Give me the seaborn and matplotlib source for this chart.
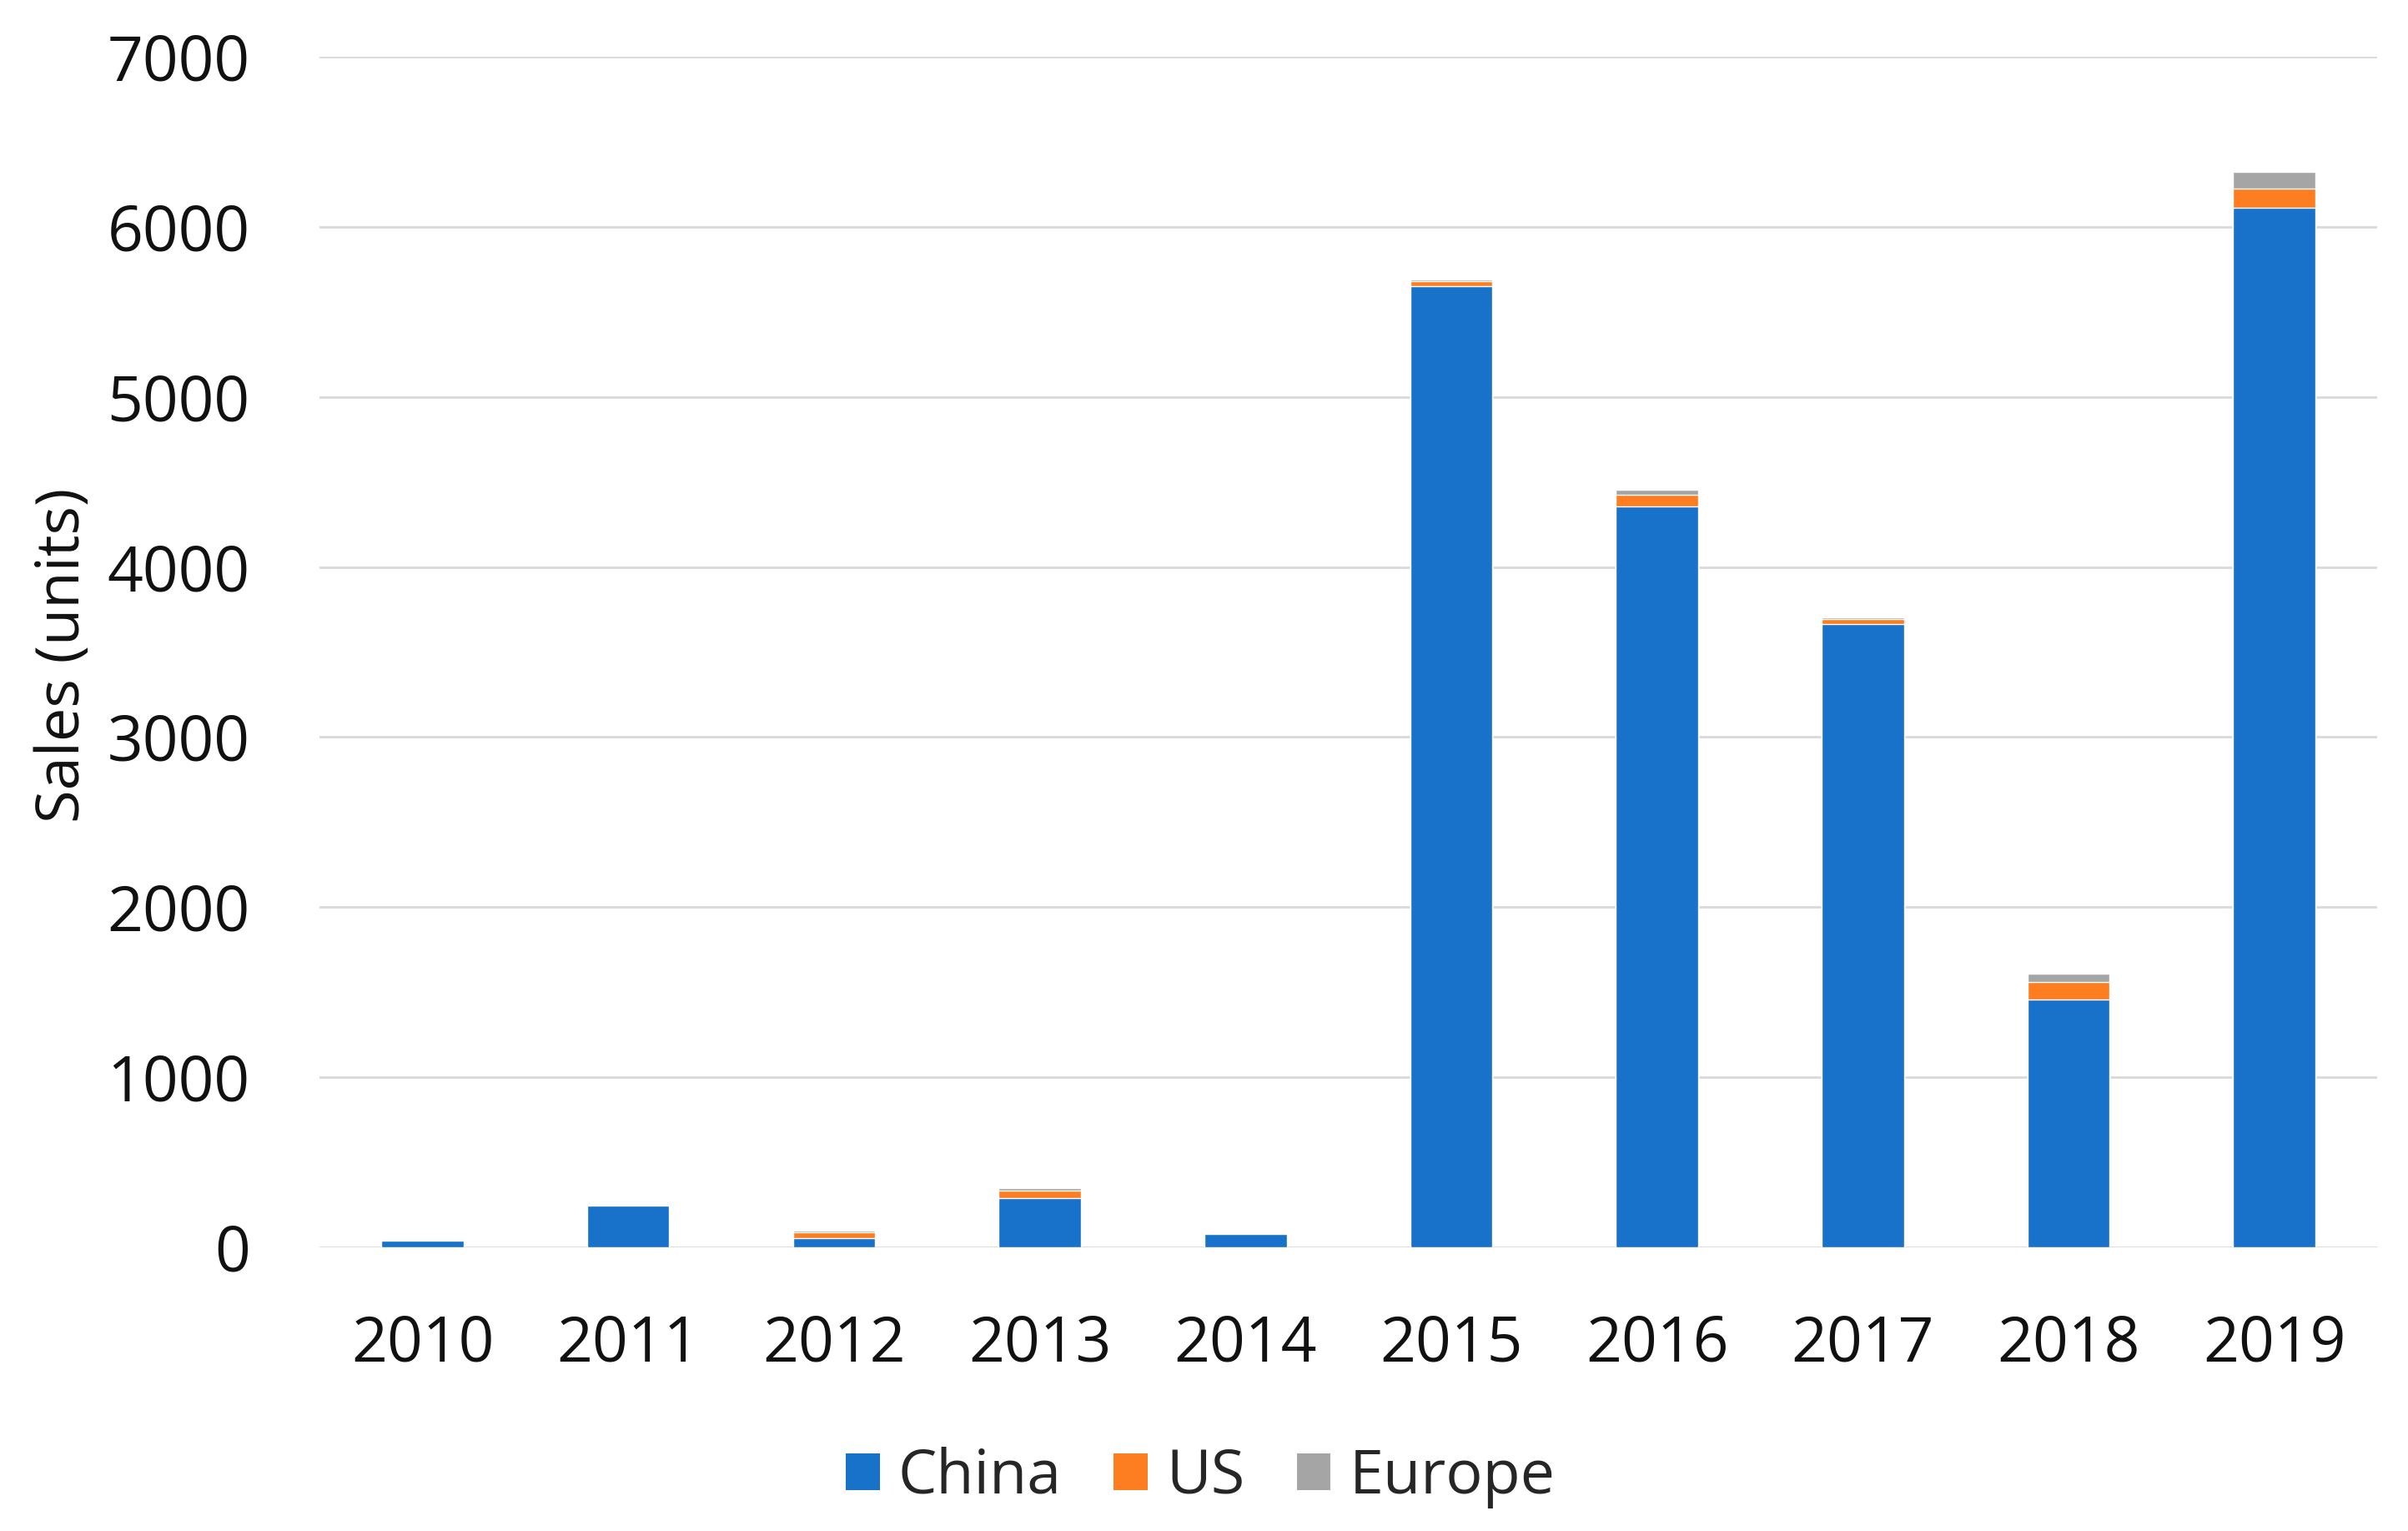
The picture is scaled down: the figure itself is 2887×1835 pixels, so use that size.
import matplotlib
matplotlib.use('Agg')
import matplotlib.pyplot as plt
from matplotlib.patches import Patch
import seaborn as sns
import numpy as np
import pandas as pd

# Datos
years = ['2010', '2011', '2012', '2013', '2014', '2015', '2016', '2017', '2018', '2019']
china = [40, 245, 52, 288, 78, 5650, 4355, 3665, 1455, 6110]
us = [3, 5, 38, 45, 4, 30, 70, 30, 105, 115]
europe = [3, 5, 6, 15, 6, 10, 30, 10, 50, 100]

colors = {'China': '#1872c9', 'US': '#fd7e20', 'Europe': '#a5a5a5'}

sns.set_theme(style='white')
plt.rcParams['font.family'] = ['Open Sans', 'DejaVu Sans']

# Acumulados para apilar las barras
df = pd.DataFrame({'year': years, 'China': china, 'US': us, 'Europe': europe})
df['China+US'] = df['China'] + df['US']
df['Total'] = df['China+US'] + df['Europe']

fig = plt.figure(figsize=(28.87, 18.35), dpi=100)
ax = fig.add_axes([0.1327, 0.1853, 0.8545, 0.7777])

sns.barplot(data=df, x='year', y='Total', color=colors['Europe'], width=0.4, saturation=1, ax=ax)
sns.barplot(data=df, x='year', y='China+US', color=colors['US'], width=0.4, saturation=1, ax=ax)
sns.barplot(data=df, x='year', y='China', color=colors['China'], width=0.4, saturation=1, ax=ax)

ax.set_ylim(0, 7000)
ax.set_xlim(-0.5, 9.5)
ax.set_yticks(np.arange(0, 7001, 1000))
ax.yaxis.grid(True, color='#d9d9d9', linewidth=2)
ax.set_axisbelow(True)
for s in ax.spines.values():
    s.set_visible(False)

ax.tick_params(axis='y', length=0, pad=60, labelsize=54, labelcolor='#111111')
ax.tick_params(axis='x', length=0, pad=57, labelsize=54, labelcolor='#111111')
ax.set_xlabel('')
ax.set_ylabel('Sales (units)', fontsize=52, color='#111111')
ax.yaxis.set_label_coords(-0.11, 0.497)

handles = [Patch(facecolor=colors[k], edgecolor='none') for k in ['China', 'US', 'Europe']]
fig.legend(handles, ['China', 'US', 'Europe'], loc='center', bbox_to_anchor=(0.4985, 0.035),
           ncol=3, frameon=False, fontsize=53, handlelength=0.55, handleheight=0.55,
           handletextpad=0.3, columnspacing=0.85)

fig.savefig('out.png', dpi=100, facecolor='white')
